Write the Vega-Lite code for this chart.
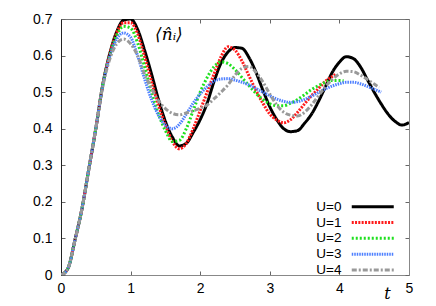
{
  "$schema": "https://vega.github.io/schema/vega-lite/v6.json",
  "autosize": {"type": "none"},
  "padding": {"left": 61, "top": 19, "right": 27, "bottom": 31},
  "width": 348,
  "height": 256,
  "background": "white",
  "config": {
    "view": {"stroke": null},
    "axis": {"grid": false, "labelFont": "Liberation Sans", "labelFontSize": 14, "labelColor": "#000", "domainColor": "#888", "tickColor": "#666", "tickSize": -4, "labelFlush": false, "labelOverlap": false}
  },
  "datasets": {
    "curves": [
      {"U":"U=0","t":0,"n":0},{"U":"U=0","t":0.1,"n":0.018},{"U":"U=0","t":0.2,"n":0.095},{"U":"U=0","t":0.3,"n":0.18},{"U":"U=0","t":0.4,"n":0.29},{"U":"U=0","t":0.5,"n":0.40},{"U":"U=0","t":0.6,"n":0.52},{"U":"U=0","t":0.7,"n":0.605},{"U":"U=0","t":0.8,"n":0.665},{"U":"U=0","t":0.9,"n":0.697},{"U":"U=0","t":1.0,"n":0.70},{"U":"U=0","t":1.1,"n":0.672},{"U":"U=0","t":1.2,"n":0.615},{"U":"U=0","t":1.3,"n":0.55},{"U":"U=0","t":1.4,"n":0.48},{"U":"U=0","t":1.5,"n":0.42},{"U":"U=0","t":1.6,"n":0.377},{"U":"U=0","t":1.7,"n":0.353},{"U":"U=0","t":1.8,"n":0.36},{"U":"U=0","t":1.9,"n":0.39},{"U":"U=0","t":2.0,"n":0.425},{"U":"U=0","t":2.1,"n":0.47},{"U":"U=0","t":2.2,"n":0.53},{"U":"U=0","t":2.3,"n":0.58},{"U":"U=0","t":2.4,"n":0.61},{"U":"U=0","t":2.5,"n":0.622},{"U":"U=0","t":2.6,"n":0.62},{"U":"U=0","t":2.7,"n":0.595},{"U":"U=0","t":2.8,"n":0.555},{"U":"U=0","t":2.9,"n":0.506},{"U":"U=0","t":3.0,"n":0.46},{"U":"U=0","t":3.1,"n":0.425},{"U":"U=0","t":3.2,"n":0.40},{"U":"U=0","t":3.3,"n":0.392},{"U":"U=0","t":3.4,"n":0.395},{"U":"U=0","t":3.5,"n":0.415},{"U":"U=0","t":3.6,"n":0.44},{"U":"U=0","t":3.7,"n":0.475},{"U":"U=0","t":3.8,"n":0.515},{"U":"U=0","t":3.9,"n":0.555},{"U":"U=0","t":4.0,"n":0.582},{"U":"U=0","t":4.1,"n":0.597},{"U":"U=0","t":4.2,"n":0.592},{"U":"U=0","t":4.3,"n":0.57},{"U":"U=0","t":4.4,"n":0.535},{"U":"U=0","t":4.5,"n":0.50},{"U":"U=0","t":4.6,"n":0.468},{"U":"U=0","t":4.7,"n":0.44},{"U":"U=0","t":4.8,"n":0.42},{"U":"U=0","t":4.9,"n":0.41},{"U":"U=0","t":5.0,"n":0.417},
      {"U":"U=1","t":0,"n":0},{"U":"U=1","t":0.1,"n":0.018},{"U":"U=1","t":0.2,"n":0.095},{"U":"U=1","t":0.3,"n":0.18},{"U":"U=1","t":0.4,"n":0.29},{"U":"U=1","t":0.5,"n":0.40},{"U":"U=1","t":0.6,"n":0.52},{"U":"U=1","t":0.7,"n":0.603},{"U":"U=1","t":0.8,"n":0.662},{"U":"U=1","t":0.9,"n":0.69},{"U":"U=1","t":1.0,"n":0.69},{"U":"U=1","t":1.1,"n":0.66},{"U":"U=1","t":1.2,"n":0.598},{"U":"U=1","t":1.3,"n":0.53},{"U":"U=1","t":1.4,"n":0.465},{"U":"U=1","t":1.5,"n":0.41},{"U":"U=1","t":1.6,"n":0.365},{"U":"U=1","t":1.7,"n":0.345},{"U":"U=1","t":1.8,"n":0.36},{"U":"U=1","t":1.9,"n":0.40},{"U":"U=1","t":2.0,"n":0.45},{"U":"U=1","t":2.1,"n":0.50},{"U":"U=1","t":2.2,"n":0.55},{"U":"U=1","t":2.3,"n":0.597},{"U":"U=1","t":2.4,"n":0.624},{"U":"U=1","t":2.5,"n":0.615},{"U":"U=1","t":2.6,"n":0.585},{"U":"U=1","t":2.7,"n":0.545},{"U":"U=1","t":2.8,"n":0.505},{"U":"U=1","t":2.9,"n":0.47},{"U":"U=1","t":3.0,"n":0.44},{"U":"U=1","t":3.1,"n":0.424},{"U":"U=1","t":3.2,"n":0.416},{"U":"U=1","t":3.3,"n":0.425},{"U":"U=1","t":3.4,"n":0.445},{"U":"U=1","t":3.5,"n":0.468},{"U":"U=1","t":3.6,"n":0.49},{"U":"U=1","t":3.7,"n":0.51},{"U":"U=1","t":3.8,"n":0.53},{"U":"U=1","t":3.9,"n":0.543},{"U":"U=1","t":3.96,"n":0.55},
      {"U":"U=2","t":0,"n":0},{"U":"U=2","t":0.1,"n":0.018},{"U":"U=2","t":0.2,"n":0.095},{"U":"U=2","t":0.3,"n":0.18},{"U":"U=2","t":0.4,"n":0.29},{"U":"U=2","t":0.5,"n":0.40},{"U":"U=2","t":0.6,"n":0.52},{"U":"U=2","t":0.7,"n":0.60},{"U":"U=2","t":0.8,"n":0.655},{"U":"U=2","t":0.9,"n":0.68},{"U":"U=2","t":1.0,"n":0.675},{"U":"U=2","t":1.1,"n":0.635},{"U":"U=2","t":1.2,"n":0.57},{"U":"U=2","t":1.3,"n":0.50},{"U":"U=2","t":1.4,"n":0.44},{"U":"U=2","t":1.5,"n":0.395},{"U":"U=2","t":1.6,"n":0.365},{"U":"U=2","t":1.7,"n":0.368},{"U":"U=2","t":1.8,"n":0.40},{"U":"U=2","t":1.9,"n":0.45},{"U":"U=2","t":2.0,"n":0.50},{"U":"U=2","t":2.1,"n":0.54},{"U":"U=2","t":2.2,"n":0.57},{"U":"U=2","t":2.3,"n":0.583},{"U":"U=2","t":2.4,"n":0.578},{"U":"U=2","t":2.5,"n":0.562},{"U":"U=2","t":2.6,"n":0.54},{"U":"U=2","t":2.7,"n":0.518},{"U":"U=2","t":2.8,"n":0.497},{"U":"U=2","t":2.9,"n":0.48},{"U":"U=2","t":3.0,"n":0.468},{"U":"U=2","t":3.1,"n":0.463},{"U":"U=2","t":3.2,"n":0.463},{"U":"U=2","t":3.3,"n":0.47},{"U":"U=2","t":3.4,"n":0.48},{"U":"U=2","t":3.5,"n":0.493},{"U":"U=2","t":3.6,"n":0.507},{"U":"U=2","t":3.7,"n":0.518},{"U":"U=2","t":3.8,"n":0.527},{"U":"U=2","t":3.9,"n":0.532},{"U":"U=2","t":4.0,"n":0.532},{"U":"U=2","t":4.06,"n":0.531},
      {"U":"U=3","t":0,"n":0},{"U":"U=3","t":0.1,"n":0.018},{"U":"U=3","t":0.2,"n":0.095},{"U":"U=3","t":0.3,"n":0.18},{"U":"U=3","t":0.4,"n":0.29},{"U":"U=3","t":0.5,"n":0.40},{"U":"U=3","t":0.6,"n":0.518},{"U":"U=3","t":0.7,"n":0.597},{"U":"U=3","t":0.8,"n":0.645},{"U":"U=3","t":0.9,"n":0.662},{"U":"U=3","t":1.0,"n":0.65},{"U":"U=3","t":1.1,"n":0.60},{"U":"U=3","t":1.2,"n":0.537},{"U":"U=3","t":1.3,"n":0.48},{"U":"U=3","t":1.4,"n":0.437},{"U":"U=3","t":1.5,"n":0.41},{"U":"U=3","t":1.6,"n":0.40},{"U":"U=3","t":1.7,"n":0.412},{"U":"U=3","t":1.8,"n":0.44},{"U":"U=3","t":1.9,"n":0.47},{"U":"U=3","t":2.0,"n":0.495},{"U":"U=3","t":2.1,"n":0.515},{"U":"U=3","t":2.2,"n":0.53},{"U":"U=3","t":2.3,"n":0.536},{"U":"U=3","t":2.4,"n":0.537},{"U":"U=3","t":2.5,"n":0.533},{"U":"U=3","t":2.6,"n":0.527},{"U":"U=3","t":2.7,"n":0.52},{"U":"U=3","t":2.8,"n":0.51},{"U":"U=3","t":2.9,"n":0.50},{"U":"U=3","t":3.0,"n":0.49},{"U":"U=3","t":3.1,"n":0.481},{"U":"U=3","t":3.2,"n":0.475},{"U":"U=3","t":3.3,"n":0.472},{"U":"U=3","t":3.4,"n":0.474},{"U":"U=3","t":3.5,"n":0.48},{"U":"U=3","t":3.6,"n":0.489},{"U":"U=3","t":3.7,"n":0.499},{"U":"U=3","t":3.8,"n":0.509},{"U":"U=3","t":3.9,"n":0.517},{"U":"U=3","t":4.0,"n":0.523},{"U":"U=3","t":4.1,"n":0.527},{"U":"U=3","t":4.2,"n":0.527},{"U":"U=3","t":4.3,"n":0.523},{"U":"U=3","t":4.4,"n":0.516},{"U":"U=3","t":4.5,"n":0.508},{"U":"U=3","t":4.6,"n":0.50},
      {"U":"U=4","t":0,"n":0},{"U":"U=4","t":0.1,"n":0.018},{"U":"U=4","t":0.2,"n":0.095},{"U":"U=4","t":0.3,"n":0.18},{"U":"U=4","t":0.4,"n":0.29},{"U":"U=4","t":0.5,"n":0.40},{"U":"U=4","t":0.6,"n":0.515},{"U":"U=4","t":0.7,"n":0.59},{"U":"U=4","t":0.8,"n":0.632},{"U":"U=4","t":0.9,"n":0.645},{"U":"U=4","t":1.0,"n":0.632},{"U":"U=4","t":1.1,"n":0.60},{"U":"U=4","t":1.2,"n":0.55},{"U":"U=4","t":1.3,"n":0.51},{"U":"U=4","t":1.4,"n":0.477},{"U":"U=4","t":1.5,"n":0.455},{"U":"U=4","t":1.6,"n":0.442},{"U":"U=4","t":1.7,"n":0.438},{"U":"U=4","t":1.8,"n":0.443},{"U":"U=4","t":1.9,"n":0.449},{"U":"U=4","t":2.0,"n":0.456},{"U":"U=4","t":2.1,"n":0.465},{"U":"U=4","t":2.2,"n":0.482},{"U":"U=4","t":2.3,"n":0.50},{"U":"U=4","t":2.4,"n":0.52},{"U":"U=4","t":2.5,"n":0.546},{"U":"U=4","t":2.6,"n":0.565},{"U":"U=4","t":2.7,"n":0.57},{"U":"U=4","t":2.8,"n":0.555},{"U":"U=4","t":2.9,"n":0.528},{"U":"U=4","t":3.0,"n":0.495},{"U":"U=4","t":3.1,"n":0.465},{"U":"U=4","t":3.2,"n":0.445},{"U":"U=4","t":3.3,"n":0.437},{"U":"U=4","t":3.4,"n":0.435},{"U":"U=4","t":3.5,"n":0.445},{"U":"U=4","t":3.6,"n":0.465},{"U":"U=4","t":3.7,"n":0.49},{"U":"U=4","t":3.8,"n":0.515},{"U":"U=4","t":3.9,"n":0.535},{"U":"U=4","t":4.0,"n":0.55},{"U":"U=4","t":4.1,"n":0.557},{"U":"U=4","t":4.2,"n":0.556},{"U":"U=4","t":4.3,"n":0.547},{"U":"U=4","t":4.4,"n":0.535},{"U":"U=4","t":4.5,"n":0.522},{"U":"U=4","t":4.57,"n":0.513}
    ],
    "label": [{"t": 1.55, "n": 0.655, "text": "⟨n̂ᵢ⟩"}]
  },
  "layer": [
    {
      "data": {"name": "curves"},
      "mark": {"type": "line", "interpolate": "monotone", "clip": true},
      "encoding": {
        "x": {"field": "t", "type": "quantitative", "scale": {"domain": [0, 5], "nice": false},
              "axis": {"orient": "bottom", "values": [0,1,2,3,4,5], "format": "d", "labelPadding": 10, "title": "t", "titleFont": "DejaVu Serif", "titleFontStyle": "italic", "titleFontWeight": "normal", "titleFontSize": 16, "titleX": 326, "titleY": 23, "titleBaseline": "alphabetic", "titleAlign": "center", "domainColor": "#888"}},
        "y": {"field": "n", "type": "quantitative", "scale": {"domain": [0, 0.7], "nice": false, "zero": true},
              "axis": {"orient": "left", "values": [0,0.1,0.2,0.3,0.4,0.5,0.6,0.7], "labelExpr": "datum.value == 0 ? '0' : format(datum.value, '.1f')", "labelPadding": 13, "title": null, "domainColor": "#222"}},
        "color": {"field": "U", "type": "nominal",
                  "scale": {"domain": ["U=0","U=1","U=2","U=3","U=4"], "range": ["#000000","#ff1a1a","#1fe01f","#4d7fff","#999999"]},
                  "legend": {"orient": "none", "legendX": 305, "legendY": 181, "title": null, "padding": 0,
                             "symbolType": "M-5.25,0H5.25", "symbolSize": 64, "labelAlign": "right", "labelOffset": -38,
                             "labelFont": "Liberation Sans", "labelFontSize": 13.5, "labelColor": "#000", "rowPadding": 0.8}},
        "strokeDash": {"field": "U", "type": "nominal",
                       "scale": {"domain": ["U=0","U=1","U=2","U=3","U=4"], "range": [[1,0],[2,1.3],[2,2],[1.5,1],[5,2,2,2]]}},
        "strokeWidth": {"field": "U", "type": "nominal",
                        "scale": {"domain": ["U=0","U=1","U=2","U=3","U=4"], "range": [3,3,2.5,2.5,2.8]}}
      }
    },
    {
      "data": {"name": "label"},
      "mark": {"type": "text", "font": "DejaVu Serif", "fontStyle": "italic", "fontSize": 17, "align": "center", "baseline": "middle"},
      "encoding": {
        "x": {"field": "t", "type": "quantitative", "axis": {"orient": "top", "values": [0,1,2,3,4,5], "labels": false, "title": null, "domainColor": "#777"}},
        "y": {"field": "n", "type": "quantitative", "axis": {"orient": "right", "values": [0,0.1,0.2,0.3,0.4,0.5,0.6,0.7], "labels": false, "title": null, "domainColor": "#888"}},
        "text": {"field": "text"}
      }
    }
  ],
  "resolve": {"axis": {"x": "independent", "y": "independent"}}
}
